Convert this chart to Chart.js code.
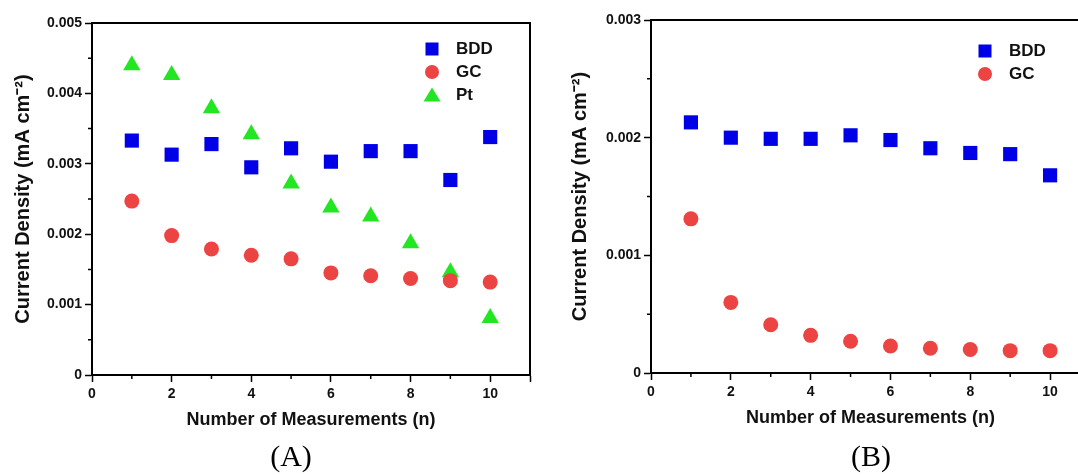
<!DOCTYPE html>
<html>
<head>
<meta charset="utf-8">
<script src="https://cdn.jsdelivr.net/npm/chart.js@4.4.0/dist/chart.umd.min.js"></script>
<style>
    html, body { margin: 0; padding: 0; background: #fff; overflow: hidden; width: 1078px; height: 475px; }
    .wrap { position: absolute; top: 0; height: 475px; }
    #wrap-a { left: 0; width: 540px; }
    #wrap-b { left: 540px; width: 560px; }
    .legend { position: absolute; font: bold 17px "Liberation Sans", Arial, sans-serif; color: #111; }
    .legend .item { height: 23px; display: flex; align-items: center; }
    .legend svg { width: 18px; height: 18px; margin-right: 15px; }
    .caption { position: absolute; top: 439px; font: 30px "Liberation Serif", "Times New Roman", serif; color: #000; transform: translateX(-50%); }
</style>
</head>
<body>
<div class="wrap" id="wrap-a"><canvas id="chart-a"></canvas></div>
<div class="wrap" id="wrap-b"><canvas id="chart-b"></canvas></div>
<div class="legend" id="legend-a" style="left:423px; top:37px;"></div>
<div class="legend" id="legend-b" style="left:976px; top:39px;"></div>
<div class="caption" style="left:291px;">(A)</div>
<div class="caption" style="left:871px;">(B)</div>

<script>
// measurement number n
const measurements = [1, 2, 3, 4, 5, 6, 7, 8, 9, 10];

// panel A, current density (mA cm-2)
const bddA = [0.00333, 0.00313, 0.00328, 0.00295, 0.00322, 0.00303, 0.00318, 0.00318, 0.00277, 0.00338];
const gcA = [0.00247, 0.00198, 0.00179, 0.00170, 0.00165, 0.00145, 0.00141, 0.00137, 0.00134, 0.00132];
const ptA = [0.00440, 0.00426, 0.00379, 0.00342, 0.00272, 0.00238, 0.00225, 0.00187, 0.00146, 0.00081];

// panel B
const bddB = [0.00213, 0.00200, 0.00199, 0.00199, 0.00202, 0.00198, 0.00191, 0.00187, 0.00186, 0.00168];
const gcB = [0.00131, 0.00060, 0.00041, 0.00032, 0.00027, 0.00023, 0.00021, 0.00020, 0.00019, 0.00019];

const xTitle = "Number of Measurements (n)";
const yTitle = "Current Density (mA cm\u207B\u00B2)";

const BLUE = "#0000e6";
const RED = "#ec4343";
const GREEN = "#22e622";
const FONT = "'Liberation Sans', Arial, sans-serif";

function points(ys) {
    return measurements.map((n, i) => ({ x: n, y: ys[i] }));
}

function series(label, ys, color, style, radius) {
    return {
        label: label,
        data: points(ys),
        pointStyle: style,
        pointRadius: radius,
        pointHoverRadius: radius,
        backgroundColor: color,
        borderColor: color,
        borderWidth: 0,
        showLine: false
    };
}

// box round the plot + short minor ticks
const framePlugin = {
    id: "frame",
    afterDraw(chart) {
        const ctx = chart.ctx;
        const area = chart.chartArea;
        const x = chart.scales.x;
        const y = chart.scales.y;
        ctx.save();
        ctx.strokeStyle = "#000";
        ctx.lineWidth = 2;
        ctx.strokeRect(area.left, area.top, area.right - area.left, area.bottom - area.top);

        ctx.lineWidth = 1.5;
        ctx.beginPath();
        for (let v = 1; v < x.max; v += 2) {
            const px = x.getPixelForValue(v);
            ctx.moveTo(px, area.bottom);
            ctx.lineTo(px, area.bottom + 4);
        }
        const half = chart.options.scales.y.ticks.stepSize / 2;
        for (let v = half; v < y.max; v += 2 * half) {
            const py = y.getPixelForValue(v);
            ctx.moveTo(area.left, py);
            ctx.lineTo(area.left - 4, py);
        }
        ctx.stroke();
        ctx.restore();
    }
};

function makeChart(canvasId, datasets, cfg) {
    return new Chart(document.getElementById(canvasId), {
        type: "scatter",
        data: { datasets: datasets },
        plugins: [framePlugin],
        options: {
            responsive: true,
            maintainAspectRatio: false,
            animation: false,
            layout: { padding: cfg.padding },
            plugins: { legend: { display: false }, tooltip: { enabled: false } },
            scales: {
                x: {
                    type: "linear",
                    min: 0,
                    max: 11,
                    afterFit: (scale) => { scale.height = 60; },
                    border: { display: true, color: "#000", width: 2 },
                    grid: { drawOnChartArea: false, tickLength: 7, tickColor: "#000", tickWidth: 1.5 },
                    ticks: {
                        stepSize: 2,
                        padding: 4,
                        color: "#111",
                        font: { family: FONT, size: 14, weight: "bold" },
                        callback: (v) => (v <= 10 ? v : "")
                    },
                    title: {
                        display: true,
                        text: xTitle,
                        color: "#111",
                        padding: { top: 2, bottom: 4 },
                        font: { family: FONT, size: 18, weight: "bold" }
                    }
                },
                y: {
                    min: 0,
                    max: cfg.yMax,
                    afterFit: (scale) => { scale.width = cfg.yWidth; },
                    border: { display: true, color: "#000", width: 2 },
                    grid: { drawOnChartArea: false, tickLength: 7, tickColor: "#000", tickWidth: 1.5 },
                    ticks: {
                        stepSize: 0.001,
                        padding: 3,
                        color: "#111",
                        font: { family: FONT, size: 14, weight: "bold" },
                        callback: (v) => (v === 0 ? "0" : v.toFixed(3))
                    },
                    title: {
                        display: true,
                        text: yTitle,
                        color: "#111",
                        padding: { top: cfg.yTitlePad, bottom: 0 },
                        font: { family: FONT, size: 20, weight: "bold" }
                    }
                }
            }
        }
    });
}

function markerSvg(style, color) {
    if (style === "rect") return `<svg viewBox="0 0 18 18"><rect x="2.5" y="2.5" width="13" height="13" fill="${color}"/></svg>`;
    if (style === "circle") return `<svg viewBox="0 0 18 18"><circle cx="9" cy="9" r="7" fill="${color}"/></svg>`;
    return `<svg viewBox="0 0 18 18"><polygon points="9,1.5 17.5,15.5 0.5,15.5" fill="${color}"/></svg>`;
}

function buildLegend(id, datasets) {
    const box = document.getElementById(id);
    datasets.forEach((ds) => {
        const item = document.createElement("div");
        item.className = "item";
        item.innerHTML = markerSvg(ds.pointStyle, ds.backgroundColor) + "<span>" + ds.label + "</span>";
        box.appendChild(item);
    });
}

const setsA = [
    series("BDD", bddA, BLUE, "rect", 10),
    series("GC", gcA, RED, "circle", 7.5),
    series("Pt", ptA, GREEN, "triangle", 10)
];
const setsB = [
    series("BDD", bddB, BLUE, "rect", 10),
    series("GC", gcB, RED, "circle", 7.5)
];

makeChart("chart-a", setsA, { yMax: 0.005, yWidth: 92, yTitlePad: 11, padding: { left: 0, top: 23, right: 9, bottom: 40 } });
makeChart("chart-b", setsB, { yMax: 0.003, yWidth: 111, yTitlePad: 28, padding: { left: 0, top: 20, right: 10, bottom: 42 } });

buildLegend("legend-a", setsA);
buildLegend("legend-b", setsB);
</script>
</body>
</html>
